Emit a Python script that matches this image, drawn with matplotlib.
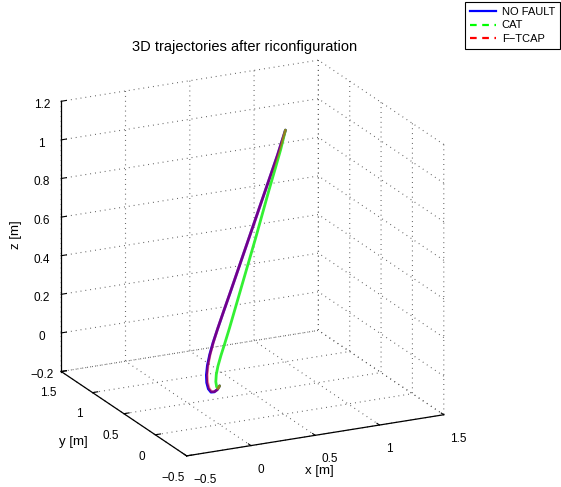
import numpy as np
import matplotlib
matplotlib.use("Agg")
import matplotlib.pyplot as plt
from matplotlib.lines import Line2D
from mpl_toolkits.mplot3d import proj3d

plt.rcParams['font.family'] = ['Liberation Sans', 'DejaVu Sans']

# ---- trajectories (x, y, z in metres) ----
nofault_x = [0.00, -0.035, -0.08, -0.13, -0.17, -0.195, -0.20, -0.185, -0.15, -0.10,
             -0.03, 0.06, 0.16, 0.28, 0.40, 0.52, 0.64, 0.76, 0.88, 1.00]
nofault_y = [0.00, -0.035, -0.08, -0.13, -0.17, -0.195, -0.20, -0.185, -0.15, -0.10,
             -0.03, 0.06, 0.16, 0.28, 0.40, 0.52, 0.64, 0.76, 0.88, 1.00]
nofault_z = [0.00, -0.008, -0.005, 0.01, 0.04, 0.08, 0.12, 0.165, 0.21, 0.255,
             0.305, 0.365, 0.43, 0.51, 0.59, 0.67, 0.75, 0.83, 0.91, 1.00]

cat_x = [0.00, -0.025, -0.045, -0.057, -0.05, -0.025, 0.02, 0.08, 0.15, 0.25,
         0.35, 0.45, 0.55, 0.65, 0.75, 0.85, 0.93, 1.00]
cat_y = [0.00, -0.025, -0.045, -0.057, -0.05, -0.025, 0.02, 0.08, 0.15, 0.25,
         0.35, 0.45, 0.55, 0.65, 0.75, 0.85, 0.93, 1.00]
cat_z = [0.00, -0.005, 0.01, 0.04, 0.075, 0.11, 0.15, 0.195, 0.25, 0.335,
         0.42, 0.505, 0.59, 0.68, 0.77, 0.855, 0.925, 1.00]

ftcap_x = [0.00, -0.032, -0.075, -0.122, -0.16, -0.183, -0.188, -0.175, -0.143, -0.096,
           -0.03, 0.06, 0.16, 0.28, 0.40, 0.52, 0.64, 0.76, 0.88, 1.00]
ftcap_y = [0.00, -0.032, -0.075, -0.122, -0.16, -0.183, -0.188, -0.175, -0.143, -0.096,
           -0.03, 0.06, 0.16, 0.28, 0.40, 0.52, 0.64, 0.76, 0.88, 1.00]
ftcap_z = [0.00, -0.008, -0.005, 0.01, 0.04, 0.08, 0.12, 0.165, 0.21, 0.255,
           0.305, 0.365, 0.43, 0.51, 0.59, 0.67, 0.75, 0.83, 0.91, 1.00]

series_names = ["NO FAULT", "CAT", "F\u2212TCAP"]

x_ticks = [-0.5, 0, 0.5, 1, 1.5]
x_ticklabels = ["\u22120.5", "0", "0.5", "1", "1.5"]
y_ticks = [-0.5, 0, 0.5, 1, 1.5]
y_ticklabels = ["\u22120.5", "0", "0.5", "1", "1.5"]
z_ticks = [-0.2, 0, 0.2, 0.4, 0.6, 0.8, 1, 1.2]
z_ticklabels = ["\u22120.2", "0", "0.2", "0.4", "0.6", "0.8", "1", "1.2"]

W, H, DPI = 561, 487, 100
fig = plt.figure(figsize=(W / DPI, H / DPI), dpi=DPI)
side = 420
cx, cy = 252.5, H - 258
ax = fig.add_axes([(cx - side / 2) / W, (cy - side / 2) / H, side / W, side / H],
                  projection='3d', proj_type='ortho', computed_zorder=False)

ax.plot(nofault_x, nofault_y, nofault_z, color='#0000ff', lw=2.0, zorder=2,
        solid_capstyle='round')
ax.plot(cat_x, cat_y, cat_z, color='#33f033', lw=2.0, zorder=3,
        solid_capstyle='round')
ax.plot(ftcap_x, ftcap_y, ftcap_z, color='#ff0000', lw=2.0, alpha=0.45, zorder=4,
        solid_capstyle='round')

ax.set_xlim(-0.5, 1.5)
ax.set_ylim(-0.5, 1.5)
ax.set_zlim(-0.2, 1.2)
ax.view_init(elev=19.15, azim=-116.0)
zoom = 1.0
ax.set_box_aspect((1, 1, 1), zoom=zoom)

ax.set_xticks(x_ticks, x_ticklabels)
ax.set_yticks(y_ticks, y_ticklabels)
ax.set_zticks(z_ticks, z_ticklabels)
ax.tick_params(labelsize=8.5, pad=0)
for lbl in ax.get_xticklabels():
    lbl.set_horizontalalignment('left')

for axis in (ax.xaxis, ax.yaxis, ax.zaxis):
    axis.set_pane_color((1, 1, 1, 0))
    axis.pane.set_edgecolor('none')
    axis.line.set_color('black')
    axis.line.set_linewidth(0.9)
    axis._axinfo['grid'].update(color='0.35', linewidth=0.8,
                                linestyle=(0, (0.8, 3.6)))
    axis._axinfo['tick']['inward_factor'] = 0.0
    axis._axinfo['tick']['outward_factor'] = 0.25

# axis titles
fig.text(319 / W, 1 - 471 / H, 'x [m]', ha='center', va='center', fontsize=9.5)
fig.text(73 / W, 1 - 442 / H, 'y [m]', ha='center', va='center', fontsize=9.5)
fig.text(16 / W, 1 - 235 / H, 'z [m]', ha='center', va='center', fontsize=9.5,
         rotation=90)

fig.text(245 / W, 1 - 47 / H, '3D trajectories after riconfiguration',
         ha='center', va='center', fontsize=10.5)

handles = [Line2D([], [], color='#0000ff', lw=1.6, ls='-'),
           Line2D([], [], color='#00ff00', lw=1.6, ls=(0, (3, 2.5))),
           Line2D([], [], color='#ff0000', lw=1.6, ls=(0, (3, 2.5)))]
leg = fig.legend(handles, series_names, loc='upper right',
                 bbox_to_anchor=(1.0, 1.0 - 1 / H), fontsize=8, fancybox=False,
                 framealpha=1, edgecolor='black', borderpad=0.45, labelspacing=0.3,
                 handlelength=2.3, handletextpad=0.55, borderaxespad=0.1)
leg.get_frame().set_linewidth(0.8)


# fit the projected cube onto the target pixel frame
def corner_px(pt):
    x2, y2, _ = proj3d.proj_transform(*pt, ax.get_proj())
    return np.array(ax.transData.transform((x2, y2)))


tA = np.array([187.0, H - 456.0])
tT = np.array([318.0, H - 60.0])
for _ in range(3):
    fig.canvas.draw()
    pA = corner_px((-0.5, -0.5, -0.2))
    pT = corner_px((1.5, 1.5, 1.2))
    zoom *= np.linalg.norm(tT - tA) / np.linalg.norm(pT - pA)
    ax.set_box_aspect((1, 1, 1), zoom=zoom)
    fig.canvas.draw()
    pA = corner_px((-0.5, -0.5, -0.2))
    pT = corner_px((1.5, 1.5, 1.2))
    shift = (tA + tT) / 2 - (pA + pT) / 2
    pos = ax.get_position()
    ax.set_position([pos.x0 + shift[0] / W, pos.y0 + shift[1] / H,
                     pos.width, pos.height])

fig.savefig('out.png', dpi=DPI)
